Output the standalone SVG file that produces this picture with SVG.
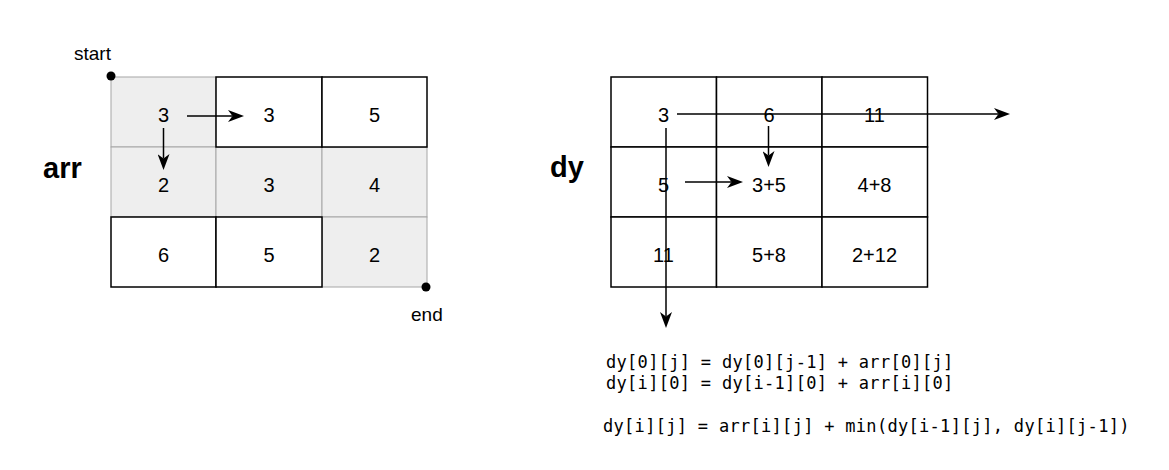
<svg xmlns="http://www.w3.org/2000/svg" width="1169" height="470" viewBox="0 0 1169 470">
  <style>
    .bg { fill: #ffffff; }
    .cellw { fill: #ffffff; stroke: #000000; stroke-width: 1.5; }
    .cellg { fill: #eeeeee; stroke: #a6a6a6; stroke-width: 1; }
    .num { font-family: "Liberation Sans", Arial, sans-serif; font-size: 20px; fill: #000000; text-anchor: middle; }
    .title { font-family: "Liberation Sans", Arial, sans-serif; font-size: 29px; font-weight: bold; fill: #000000; }
    .lbl { font-family: "Liberation Sans", Arial, sans-serif; font-size: 19px; fill: #000000; }
    .code { font-family: "DejaVu Sans Mono", "Liberation Mono", monospace; font-size: 17px; letter-spacing: 0.3px; fill: #000000; }
    .conn { stroke: #000000; stroke-width: 1.5; fill: none; marker-end: url(#arrow); }
    .dot { fill: #000000; }
  </style>
  <defs>
    <marker id="arrow" viewBox="0 0 16 12" refX="4.5" refY="6" markerWidth="16" markerHeight="12" markerUnits="userSpaceOnUse" orient="auto">
      <path d="M0,0 L16,6 L0,12 L4.5,6 Z" fill="#000000"/>
    </marker>
  </defs>
  <rect class="bg" x="0" y="0" width="1169" height="470"/>

  <g id="arr-grid">
    <g id="arr-0-0"><rect class="cellg" x="111" y="77" width="105" height="70"/><text class="num" x="163.5" y="121.5">3</text></g>
    <g id="arr-1-0"><rect class="cellg" x="111" y="147" width="105" height="70"/><text class="num" x="163.5" y="191.5">2</text></g>
    <g id="arr-1-1"><rect class="cellg" x="216" y="147" width="106" height="70"/><text class="num" x="269" y="191.5">3</text></g>
    <g id="arr-1-2"><rect class="cellg" x="322" y="147" width="105" height="70"/><text class="num" x="374.5" y="191.5">4</text></g>
    <g id="arr-2-2"><rect class="cellg" x="322" y="217" width="105" height="70"/><text class="num" x="374.5" y="261.5">2</text></g>
    <g id="arr-0-1"><rect class="cellw" x="216" y="77" width="106" height="70"/><text class="num" x="269" y="121.5">3</text></g>
    <g id="arr-0-2"><rect class="cellw" x="322" y="77" width="105" height="70"/><text class="num" x="374.5" y="121.5">5</text></g>
    <g id="arr-2-0"><rect class="cellw" x="111" y="217" width="105" height="70"/><text class="num" x="163.5" y="261.5">6</text></g>
    <g id="arr-2-1"><rect class="cellw" x="216" y="217" width="106" height="70"/><text class="num" x="269" y="261.5">5</text></g>
  </g>

  <g id="arr-label"><text class="title" x="43" y="178">arr</text></g>
  <g id="start"><circle class="dot" cx="111" cy="76" r="4.5"/><text class="lbl" x="74" y="60">start</text></g>
  <g id="end"><circle class="dot" cx="426" cy="287" r="4.5"/><text class="lbl" x="411" y="321">end</text></g>

  <g id="dy-grid">
    <g id="dy-0-0"><rect class="cellw" x="611" y="77" width="105.5" height="70"/><text class="num" x="663.5" y="121.5">3</text></g>
    <g id="dy-0-1"><rect class="cellw" x="716.5" y="77" width="105.5" height="70"/><text class="num" x="769" y="121.5">6</text></g>
    <g id="dy-0-2"><rect class="cellw" x="822" y="77" width="105.5" height="70"/><text class="num" x="874.5" y="121.5">11</text></g>
    <g id="dy-1-0"><rect class="cellw" x="611" y="147" width="105.5" height="70"/><text class="num" x="663.5" y="191.5">5</text></g>
    <g id="dy-1-1"><rect class="cellw" x="716.5" y="147" width="105.5" height="70"/><text class="num" x="769" y="191.5">3+5</text></g>
    <g id="dy-1-2"><rect class="cellw" x="822" y="147" width="105.5" height="70"/><text class="num" x="874.5" y="191.5">4+8</text></g>
    <g id="dy-2-0"><rect class="cellw" x="611" y="217" width="105.5" height="70"/><text class="num" x="663.5" y="261.5">11</text></g>
    <g id="dy-2-1"><rect class="cellw" x="716.5" y="217" width="105.5" height="70"/><text class="num" x="769" y="261.5">5+8</text></g>
    <g id="dy-2-2"><rect class="cellw" x="822" y="217" width="105.5" height="70"/><text class="num" x="874.5" y="261.5">2+12</text></g>
  </g>

  <g id="dy-label"><text class="title" x="550" y="177">dy</text></g>

  <g id="connectors">
    <line class="conn" x1="187" y1="116" x2="232.5" y2="116"/>
    <line class="conn" x1="163.5" y1="128" x2="163.5" y2="158.5"/>
    <line class="conn" x1="677" y1="114" x2="998.5" y2="114"/>
    <line class="conn" x1="666" y1="128" x2="666" y2="316.5"/>
    <line class="conn" x1="768.5" y1="126" x2="768.5" y2="155.5"/>
    <line class="conn" x1="685" y1="182" x2="731.5" y2="182"/>
  </g>

  <g id="formulas">
    <text class="code" x="606" y="368">dy[0][j] = dy[0][j-1] + arr[0][j]</text>
    <text class="code" x="606" y="389">dy[i][0] = dy[i-1][0] + arr[i][0]</text>
    <text class="code" x="603" y="432">dy[i][j] = arr[i][j] + min(dy[i-1][j], dy[i][j-1])</text>
  </g>
</svg>
